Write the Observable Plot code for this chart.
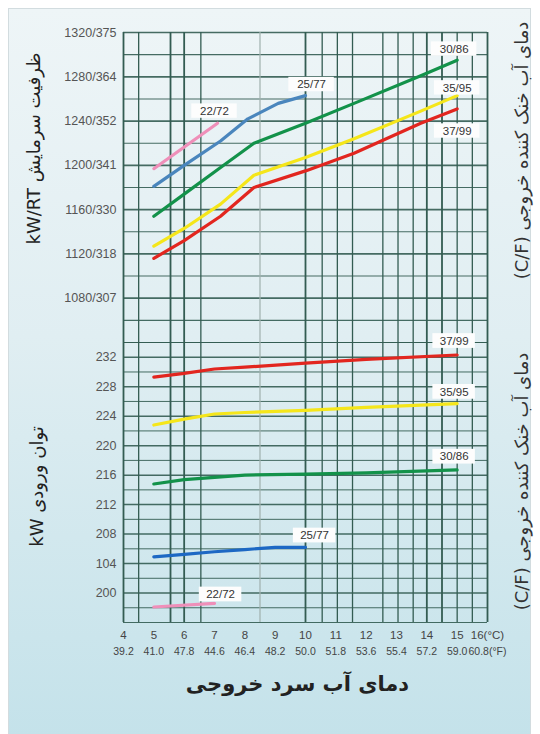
<!DOCTYPE html>
<html><head><meta charset="utf-8">
<script src="https://cdn.jsdelivr.net/npm/d3@7"></script>
<script src="https://cdn.jsdelivr.net/npm/@observablehq/plot@0.6"></script>
<style>
body{margin:0;background:#fff;}
#wrap{position:relative;width:540px;height:734px;overflow:hidden;background:#fff;}
#panel{position:absolute;left:8px;top:8px;width:523px;height:730px;background:linear-gradient(#eef5f7,#e0eef2 45%,#c4e2ea);border:1px solid #d2dcdf;box-sizing:border-box;}
#topChart,#botChart{position:absolute;left:0;}
#topChart{top:0;} #botChart{top:342px;}
svg{background:transparent !important;overflow:visible;}
</style></head>
<body><div id="wrap"><div id="panel"></div><div id="topChart"></div><div id="botChart"></div></div>
<script>
// ---- axis ticks and labels ----
const celsiusTicks = [4,5,6,7,8,9,10,11,12,13,14,15,16];
const celsiusLabels = ["4","5","6","7","8","9","10","11","12","13","14","15","16(°C)"];
const fahrenheitLabels = ["39.2","41.0","47.8","44.6","46.4","48.2","50.0","51.8","53.6","55.4","57.2","59.0","60.8(°F)"];
const capacityTicks = [1080,1120,1160,1200,1240,1280,1320];
const capacityLabels = ["1080/307","1120/318","1160/330","1200/341","1240/352","1280/364","1320/375"];
const powerTicks = [200,204,208,212,216,220,224,228,232];
const powerLabels = ["200","104","208","212","216","220","224","228","232"];
const verticalGrid = [4,4.5,5.55,6,6.55,10,10.55,11.05,11.55,12.55,13.05,13.55,14,14.5,15,15.5,16];
const lightVerticalGrid = [8.5];
const capacityGrid = d3.range(1040,1321,20);
const powerGrid = d3.range(196,235,2);

// ---- series (condenser water outlet temp C/F) ----
const seriesNames = ["22/72","25/77","30/86","35/95","37/99"];
const capColors = ["#ef8fb9","#4a86bd","#13924a","#f5e61a","#e2261f"];
const powColors = ["#ef8fb9","#1d68c4","#13924a","#f5e61a","#e2261f"];

// cooling capacity (kW) vs chilled water outlet temp (C)
const capTemps2272 = [5,7.1];
const cap2272 = [1197,1238];
const capTemps2577 = [5,6,7.2,8.1,9.1,10];
const cap2577 = [1181,1200,1222,1242,1256,1263];
const capTemps = [5,6,7.2,8.3,10,11.6,13.8,15];
const cap3086 = [1154,1174,1198,1220,1238,1256,1281,1295];
const cap3595 = [1127,1143,1165,1191,1207,1224,1249,1263];
const cap3799 = [1116,1132,1154,1180,1195,1211,1238,1251];

// input power (kW)
const powTemps2272 = [5,7];
const pow2272 = [198.1,198.6];
const powTemps2577 = [5,6,7,8,9,10];
const pow2577 = [204.9,205.25,205.6,205.9,206.2,206.2];
const powTemps = [5,6,7,8,10,12,15];
const pow3086 = [214.8,215.4,215.7,216.0,216.15,216.3,216.7];
const pow3595 = [222.8,223.6,224.3,224.5,224.8,225.2,225.7];
const pow3799 = [229.3,229.8,230.4,230.65,231.2,231.7,232.3];

// label anchors
const capLabelT = [7.0,10.2,14.9,15.0,15.0];
const capLabelV = [1249,1273,1305,1270,1231];
const powLabelT = [7.2,10.3,14.9,14.9,14.9];
const powLabelV = [199.8,207.8,218.5,227.3,234.2];

const capSeries = [
  [capTemps2272,cap2272],[capTemps2577,cap2577],[capTemps,cap3086],[capTemps,cap3595],[capTemps,cap3799]
];
const powSeries = [
  [powTemps2272,pow2272],[powTemps2577,pow2577],[powTemps,pow3086],[powTemps,pow3595],[powTemps,pow3799]
];
function rows(series){
  const out=[];
  series.forEach(([ts,vs],i)=>ts.forEach((t,j)=>out.push({s:seriesNames[i],t,v:vs[j]})));
  return out;
}
const capRows = rows(capSeries);
const powRows = rows(powSeries);
const capLabels = seriesNames.map((s,i)=>({s,t:capLabelT[i],v:capLabelV[i]}));
const powLabels = seriesNames.map((s,i)=>({s,t:powLabelT[i],v:powLabelV[i]}));

const gridColor = "#335c52";
const fa = "DejaVu Sans";
const latin = "Liberation Sans";
const heavyV = [4,5.55,6,10,14,14.5,16];

const capChart = Plot.plot({
  width:540, height:342, marginTop:32, marginBottom:0, marginLeft:123, marginRight:53,
  x:{domain:[4,16], axis:null},
  y:{domain:[1040,1320]},
  color:{domain:seriesNames, range:capColors},
  marks:[
    Plot.ruleY(capacityGrid,{stroke:gridColor, strokeWidth:d=>capacityTicks.includes(d)?1.7:1.1, strokeOpacity:0.9}),
    Plot.ruleX(lightVerticalGrid,{stroke:"#9fb0ae", strokeWidth:1.2}),
    Plot.ruleX(verticalGrid,{stroke:gridColor, strokeWidth:d=>heavyV.includes(d)?1.8:1.3}),
    Plot.line(capRows,{x:"t", y:"v", z:"s", stroke:"s", strokeWidth:3.2, curve:"linear"}),
    Plot.rect(capLabels,{x1:d=>d.t-0.75, x2:d=>d.t+0.75, y1:d=>d.v-6.5, y2:d=>d.v+6.5, fill:"#fdfdfd"}),
    Plot.text(capLabels,{x:"t", y:"v", text:"s", fontSize:11.5, fill:"#333", fontFamily:latin}),
    Plot.axisY(capacityTicks,{tickSize:0, tickPadding:7, tickFormat:(d,i)=>capacityLabels[i], fontSize:12.5, fill:"#555", fontFamily:latin, label:null}),
    Plot.text(["kW/RT ظرفیت سرمایش"],{frameAnchor:"left", textAnchor:"middle", dx:-89, dy:-39, rotate:-90, fontSize:18, fill:"#222", fontFamily:fa}),
    Plot.text(["(C/F) دمای آب خنک کننده خروجی"],{frameAnchor:"right", textAnchor:"middle", dx:35, dy:-37, rotate:-90, fontSize:18, fill:"#333", fontFamily:fa})
  ]
});
capChart.style.fontFamily = latin;
document.getElementById("topChart").appendChild(capChart);

const powChart = Plot.plot({
  width:540, height:392, marginTop:0, marginBottom:112, marginLeft:123, marginRight:53,
  x:{domain:[4,16]},
  y:{domain:[196,234]},
  color:{domain:seriesNames, range:powColors},
  marks:[
    Plot.ruleY(powerGrid,{stroke:gridColor, strokeWidth:d=>powerTicks.includes(d)?1.5:1.0, strokeOpacity:0.9}),
    Plot.ruleX(lightVerticalGrid,{stroke:"#9fb0ae", strokeWidth:1.2}),
    Plot.ruleX(verticalGrid,{stroke:gridColor, strokeWidth:d=>heavyV.includes(d)?1.8:1.3}),
    Plot.line(powRows,{x:"t", y:"v", z:"s", stroke:"s", strokeWidth:3.2}),
    Plot.rect(powLabels,{x1:d=>d.t-0.7, x2:d=>d.t+0.7, y1:d=>d.v-1.0, y2:d=>d.v+1.0, fill:"#fdfdfd"}),
    Plot.text(powLabels,{x:"t", y:"v", text:"s", fontSize:11.5, fill:"#333", fontFamily:latin}),
    Plot.axisY(powerTicks,{tickSize:0, tickPadding:7, tickFormat:(d,i)=>powerLabels[i], fontSize:12.5, fill:"#555", fontFamily:latin, label:null}),
    Plot.axisX(celsiusTicks,{tickSize:0, tickPadding:8, tickFormat:(d,i)=>celsiusLabels[i], fontSize:11.5, fill:"#444", fontFamily:latin, label:null}),
    Plot.axisX(celsiusTicks,{tickSize:0, tickPadding:25, tickFormat:(d,i)=>fahrenheitLabels[i], fontSize:10.5, fill:"#444", fontFamily:latin, label:null}),
    Plot.text(["kW توان ورودی"],{frameAnchor:"left", textAnchor:"middle", dx:-86, dy:4, rotate:-90, fontSize:18, fill:"#222", fontFamily:fa}),
    Plot.text(["(C/F) دمای آب خنک کننده خروجی"],{frameAnchor:"right", textAnchor:"middle", dx:35, dy:-1, rotate:-90, fontSize:18, fill:"#333", fontFamily:fa}),
    Plot.text(["دمای آب سرد خروجی"],{frameAnchor:"bottom", dx:-8, dy:68, fontSize:21, fontWeight:"bold", fill:"#222", fontFamily:fa})
  ]
});
powChart.style.fontFamily = latin;
document.getElementById("botChart").appendChild(powChart);
</script>
</body></html>
